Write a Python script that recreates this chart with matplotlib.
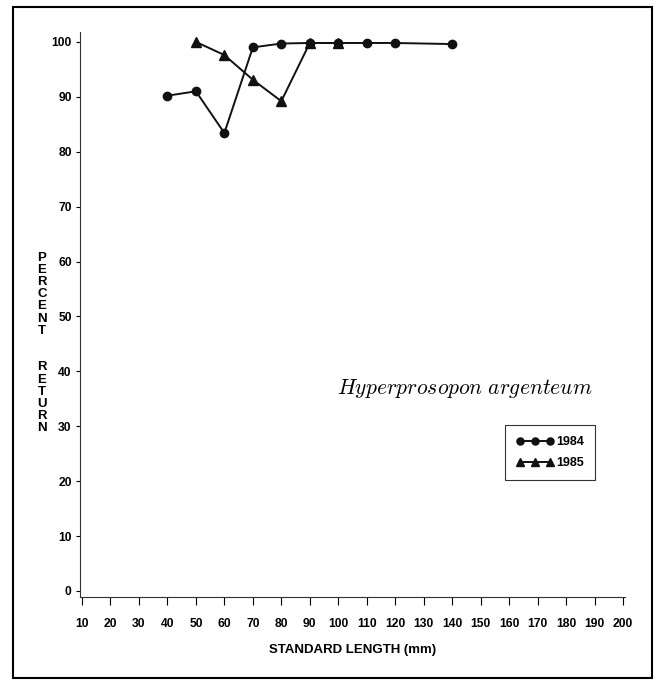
import matplotlib
matplotlib.use('Agg')
from matplotlib import pyplot as plt
from matplotlib.patches import Rectangle

plt.rcParams['font.family'] = ['Liberation Sans', 'DejaVu Sans']
plt.rcParams['font.weight'] = 'bold'
plt.rcParams['mathtext.fontset'] = 'cm'

# Datos
x1984 = [40, 50, 60, 70, 80, 90, 100, 110, 120, 140]
y1984 = [90.2, 91.0, 83.4, 99.0, 99.7, 99.8, 99.8, 99.8, 99.8, 99.6]
x1985 = [50, 60, 70, 80, 90, 100]
y1985 = [100.0, 97.6, 93.1, 89.2, 99.8, 99.8]
xticks = list(range(10, 201, 10))
yticks = list(range(0, 101, 10))

fig = plt.figure(figsize=(6.57, 6.8), dpi=100)
ax = fig.add_axes([80/657, 1 - 597/680, 545/657, 565/680])

ax.plot(x1984, y1984, color='#111111', lw=1.4, marker='o', ms=6, label='1984')
ax.plot(x1985, y1985, color='#111111', lw=1.4, marker='^', ms=6.5, label='1985')

ax.set_xlim(9.3, 200.7)
ax.set_ylim(-1.1, 101.8)
ax.set_xticks(xticks)
ax.set_yticks(yticks)
ax.tick_params(axis='x', direction='out', length=6, width=0.8, labelsize=8.7, pad=9)
ax.tick_params(axis='y', direction='out', length=3, width=0.8, labelsize=8.7, pad=3)
for s in ['top', 'right']:
    ax.spines[s].set_visible(False)
for s in ['left', 'bottom']:
    ax.spines[s].set_linewidth(0.8)
    ax.spines[s].set_color('#333333')

ax.set_xlabel('STANDARD LENGTH (mm)', fontsize=9.5, fontweight='bold', labelpad=10)

# etiqueta vertical con letras apiladas
fig.text(42/657, 1 - 343/680, '\n'.join('PERCENT  RETURN'), ha='center', va='center',
         fontsize=9.5, linespacing=1.02)

fig.text(465/657, 1 - 388/680, r'$\mathit{Hyperprosopon\ argenteum}$', fontsize=15.5,
         ha='center', va='center')

leg = ax.legend(loc='upper left', bbox_to_anchor=((505 - 80) / 545, (597 - 425) / 565),
                borderaxespad=0, numpoints=3, handlelength=3.0, handletextpad=0.2,
                fancybox=False, edgecolor='black', fontsize=9, labelspacing=0.7,
                borderpad=0.9, markerscale=0.85)
leg.get_frame().set_linewidth(0.8)

fig.patches.append(Rectangle((13/657, 2/680), 639/657, 671/680, transform=fig.transFigure,
                             fill=False, lw=1.5, edgecolor='black'))

fig.savefig('out.png', dpi=100)
